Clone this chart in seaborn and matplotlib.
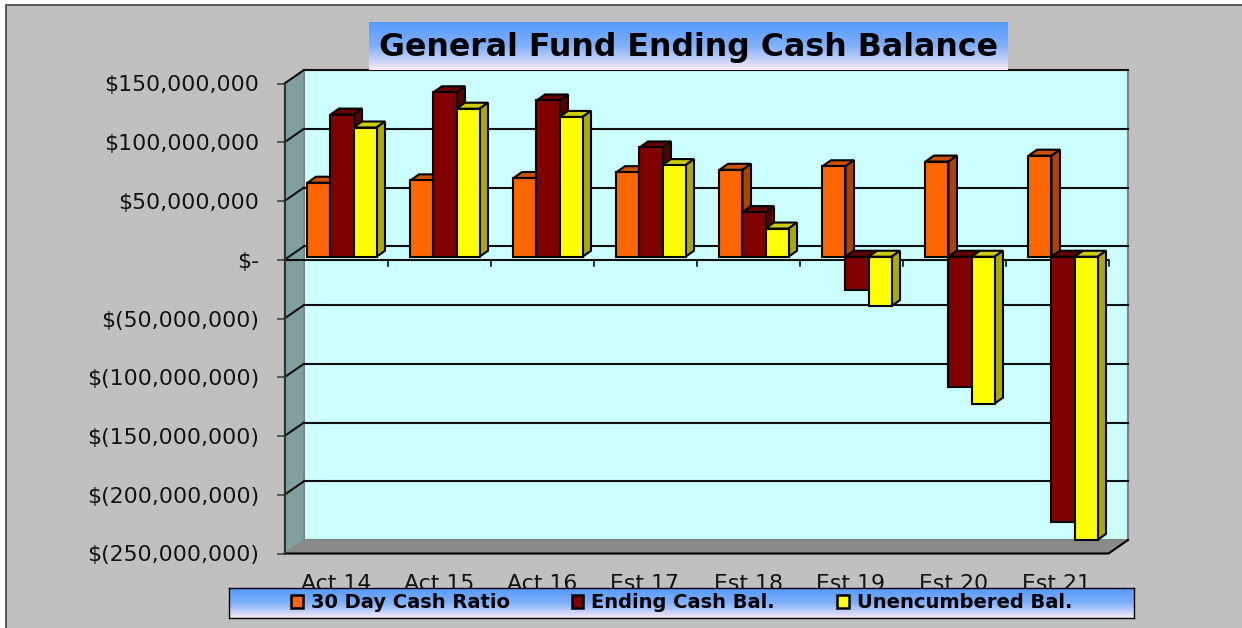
import numpy as np
import pandas as pd
import seaborn as sns
import matplotlib.pyplot as plt
from matplotlib.colors import LinearSegmentedColormap
from matplotlib.patches import Patch, Polygon, Rectangle
from matplotlib.transforms import Affine2D

years = ["Act 14", "Act 15", "Act 16", "Est 17", "Est 18", "Est 19", "Est 20", "Est 21"]
cash_ratio = [63, 65, 67, 72, 74, 77, 81, 86]
ending_cash = [121, 140, 133, 93, 38, -28, -111, -226]
unencumbered = [110, 126, 119, 78, 24, -42, -125, -241]

series_names = ["30 Day Cash Ratio", "Ending Cash Bal.", "Unencumbered Bal."]
front_colors = ["#FF6600", "#800000", "#FFFF00"]
top_colors = ["#CC5200", "#660000", "#CCCC00"]
side_colors = ["#AA4400", "#550000", "#AAAA00"]

y_ticks = [150, 100, 50, 0, -50, -100, -150, -200, -250]
y_labels = ["$150,000,000", "$100,000,000", "$50,000,000", "$-", "$(50,000,000)",
            "$(100,000,000)", "$(150,000,000)", "$(200,000,000)", "$(250,000,000)"]

W, H = 1242, 628
# front plane of the fake 3d box, pixels from top left
LEFT, RIGHT, TOP, BOTTOM = 284.5, 1108.5, 83.5, 553.5
WALL_DX, WALL_DY = 19.5, 13.5
BAR_DX, BAR_DY = 6, 3
DEPTH_DX, DEPTH_DY = 8.5, 6

plt.rcParams["font.family"] = "DejaVu Sans"


def px_axes(fig, x0, y0, x1, y1, **kw):
    return fig.add_axes([x0 / W, 1 - y1 / H, (x1 - x0) / W, (y1 - y0) / H], **kw)


def gradient_box(fig, x0, y0, x1, y1, z):
    cmap = LinearSegmentedColormap.from_list("sky", ["#559AFF", "#7FB0FA", "#F8E8F6"])
    box = px_axes(fig, x0, y0, x1, y1, zorder=z)
    box.imshow(np.linspace(0, 1, 64).reshape(-1, 1), aspect="auto", cmap=cmap,
               vmin=0, vmax=1, interpolation="nearest")
    box.set_xticks([])
    box.set_yticks([])
    return box


fig = plt.figure(figsize=(W / 100, H / 100), dpi=100, facecolor="white")

# background, wall and floor are drawn in plain pixels
bg = px_axes(fig, 0, 0, W, H, zorder=0)
bg.set_xlim(0, W)
bg.set_ylim(H, 0)
bg.axis("off")
bg.add_patch(Rectangle((6, 5), W + 20, H + 20, fc="#C0C0C0", ec="#404040", lw=1.2))
bg.add_patch(Rectangle((LEFT + WALL_DX, TOP - WALL_DY), RIGHT - LEFT, BOTTOM - TOP,
                       fc="#CCFFFF", ec="#808080", lw=1.5))
bg.add_patch(Polygon([(LEFT, TOP), (LEFT + WALL_DX, TOP - WALL_DY),
                      (LEFT + WALL_DX, BOTTOM - WALL_DY), (LEFT, BOTTOM)],
                     fc="#80A0A0", ec="#808080", lw=1))
bg.add_patch(Polygon([(LEFT, BOTTOM), (LEFT + WALL_DX, BOTTOM - WALL_DY),
                      (RIGHT + WALL_DX, BOTTOM - WALL_DY), (RIGHT, BOTTOM)],
                     fc="#8A8A8A", ec="none"))
bg.plot([LEFT, RIGHT, RIGHT + WALL_DX], [BOTTOM, BOTTOM, BOTTOM - WALL_DY], color="black", lw=1.5)

df = pd.DataFrame({
    "year": years * 3,
    "value": cash_ratio + ending_cash + unencumbered,
    "series": np.repeat(series_names, len(years)),
})

ax = px_axes(fig, LEFT, TOP, RIGHT, BOTTOM, zorder=2)
ax.patch.set_alpha(0)
sns.barplot(data=df, x="year", y="value", hue="series", hue_order=series_names,
            palette=front_colors, saturation=1, width=0.67, gap=0, dodge=True,
            edgecolor="black", linewidth=1.5, legend=False, ax=ax)
ax.set_xlim(-0.5, len(years) - 0.5)
ax.set_ylim(-250, 150)
ax.set_xlabel("")
ax.set_ylabel("")
ax.set_yticks(y_ticks)
ax.set_yticklabels(y_labels, fontsize=15.8, color="#111111")
ax.tick_params(axis="y", length=6, width=1.2, color="#444444", pad=12)
ax.tick_params(axis="x", length=0, labelsize=15.8, labelcolor="#111111", pad=15)
for name, spine in ax.spines.items():
    spine.set_visible(name == "left")
ax.spines["left"].set_color("#303030")
ax.spines["left"].set_linewidth(1.5)

# gridlines sit on the back wall, with a slanted piece across the side wall
to_px = ax.transData
wall_shift = to_px + Affine2D().translate(WALL_DX, WALL_DY)
for v in y_ticks[:-1]:
    ax.plot([-0.5, len(years) - 0.5], [v, v], color="#101010", lw=1.5, transform=wall_shift,
            zorder=1, clip_on=False)
    x0, y0 = to_px.transform((-0.5, v))
    ax.plot([x0, x0 + WALL_DX], [y0, y0 + WALL_DY], color="#101010", lw=1.5, transform=None,
            zorder=1, clip_on=False)

# zero line with the category ticks hanging under it
ax.axhline(0, color="#101010", lw=1.5, zorder=2)
for i in range(len(years) + 1):
    x0, y0 = to_px.transform((i - 0.5, 0))
    ax.plot([x0, x0], [y0, y0 - 6], color="#101010", lw=1.2, transform=None, zorder=2, clip_on=False)

# push each bar off the front plane and add its top and side faces
bar_shift = to_px + Affine2D().translate(BAR_DX, BAR_DY)
for j, bars in enumerate(ax.containers):
    for bar in bars:
        low = bar.get_y()
        high = low + bar.get_height()
        x0, y_a = bar_shift.transform((bar.get_x(), min(low, high)))
        x1, y_b = bar_shift.transform((bar.get_x() + bar.get_width(), max(low, high)))
        top = Polygon([(x0, y_b), (x0 + DEPTH_DX, y_b + DEPTH_DY),
                       (x1 + DEPTH_DX, y_b + DEPTH_DY), (x1, y_b)],
                      fc=top_colors[j], ec="black", lw=1.5, transform=None, zorder=3 + 2 * j, clip_on=False)
        side = Polygon([(x1, y_b), (x1 + DEPTH_DX, y_b + DEPTH_DY),
                        (x1 + DEPTH_DX, y_a + DEPTH_DY), (x1, y_a)],
                       fc=side_colors[j], ec="black", lw=1.5, transform=None, zorder=3 + 2 * j, clip_on=False)
        ax.add_artist(top)
        ax.add_artist(side)
        bar.set_transform(bar_shift)
        bar.set_zorder(4 + 2 * j)
        bar.set_clip_on(False)

title_box = gradient_box(fig, 369, 22, 1008, 70, 4)
title_box.text(0.5, 0.47, "General Fund Ending Cash Balance", transform=title_box.transAxes,
               ha="center", va="center", fontsize=22.8, fontweight="bold", color="black")
for spine in title_box.spines.values():
    spine.set_visible(False)

legend_box = gradient_box(fig, 229, 588, 1134, 618, 4)
for spine in legend_box.spines.values():
    spine.set_color("black")
    spine.set_linewidth(1.0)
handles = [Patch(fc=c, ec="black", lw=1.8) for c in front_colors]
legend_box.legend(handles, series_names, ncols=3, loc="center", frameon=False,
                  prop={"size": 14, "weight": "bold"}, handlelength=0.6, handleheight=0.6,
                  handletextpad=0.4, columnspacing=3.2, borderpad=0, borderaxespad=0)

plt.savefig("out.png", dpi=100)
